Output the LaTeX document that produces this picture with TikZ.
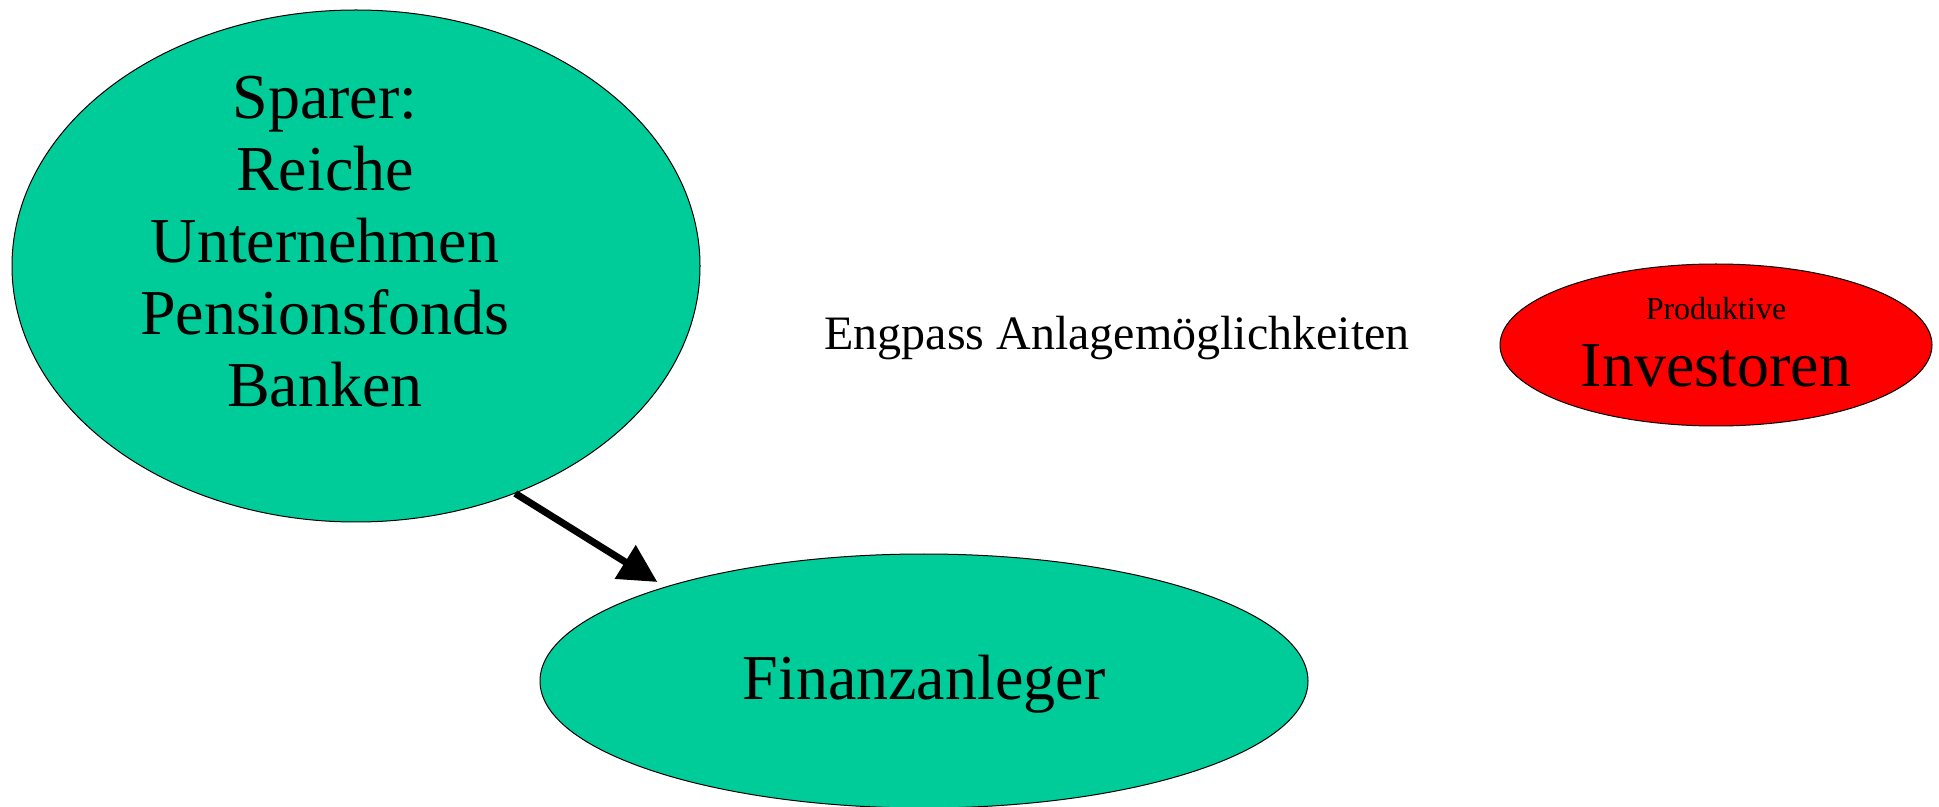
\documentclass[tikz,border=0pt]{standalone}
\usepackage{fontspec}
\setmainfont{Liberation Serif}
\usetikzlibrary{shapes.geometric,arrows.meta}
\definecolor{sparergreen}{HTML}{00CC99}
\tikzset{
  oval/.style={ellipse, draw=black, line width=0.5pt, inner sep=0pt},
  bigtext/.style={font=\fontsize{32}{36}\selectfont, align=center}
}
\begin{document}
\begin{tikzpicture}[x=0.5pt,y=-0.5pt]
\useasboundingbox (0,0) rectangle (1939,807);
% Left: savers
\node[oval, fill=sparergreen, minimum width=344pt, minimum height=256pt] (sparer) at (356,266) {};
\node[bigtext] (sparertext) at (325,242) {Sparer:\\Reiche\\Unternehmen\\Pensionsfonds\\Banken};

% Bottom: financial investors
\node[oval, fill=sparergreen, minimum width=384pt, minimum height=127pt] (finanz) at (924,681) {};
\node[bigtext] (finanztext) at (924,684) {Finanzanleger};

% Middle text
\node[font=\fontsize{24}{28}\selectfont] (engpass) at (1117,338) {Engpass Anlagemöglichkeiten};

% Right: productive investors
\node[oval, fill=red, minimum width=216pt, minimum height=81pt] (invest) at (1716,345) {};
\node[font=\fontsize{16}{19}\selectfont] (produktiv) at (1716,309) {Produktive};
\node[bigtext] (investtext) at (1716,366) {Investoren};

% Arrow
\draw[line width=3.5pt, -{Triangle[length=19pt,width=19pt]}, shorten >=4.5pt] (sparer.-55.6) -- (finanz.160.8);
\end{tikzpicture}
\end{document}
